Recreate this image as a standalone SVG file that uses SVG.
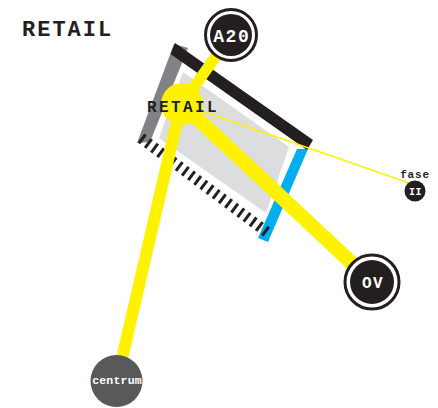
<svg xmlns="http://www.w3.org/2000/svg" width="438" height="408" viewBox="0 0 438 408">
<style>
.t{font-family:"Liberation Mono","DejaVu Sans Mono",monospace;font-weight:bold}
.dk{fill:#231f20}
.wt{fill:#ffffff}
.y{stroke:#fff200;fill:none;stroke-linecap:butt}
</style>
<rect width="438" height="408" fill="#ffffff"/>
<g id="building">
<polygon points="183,72 289,147 266,213 159,138" fill="#dcdddf"/>
<polygon points="174,44 188,48 150,142 137,143" fill="#808285"/>
<polygon points="297,149 308,149 268,242 258,238" fill="#00aeef"/>
<polygon points="175,43 313,140 307,150 170.5,54" fill="#231f20"/>
<line x1="141" y1="138" x2="268" y2="233" stroke="#231f20" stroke-width="11" stroke-dasharray="3 4.7"/>
</g>
<g id="connectors">
<line class="y" x1="231" y1="35" x2="182" y2="104" stroke-width="11"/>
<line class="y" x1="182" y1="104" x2="372" y2="282" stroke-width="14.5"/>
<line class="y" x1="181" y1="104" x2="117" y2="380" stroke-width="12"/>
<line class="y" x1="182" y1="104" x2="412" y2="184" stroke-width="1.5"/>
</g>
<g id="junction">
<circle cx="182" cy="104" r="21" fill="#fff200"/>
<text class="t dk" x="147" y="112" font-size="16" letter-spacing="2.4">RETAIL</text>
</g>
<g id="title">
<text class="t dk" x="22" y="36" font-size="22" letter-spacing="2">RETAIL</text>
</g>
<g id="a20">
<circle cx="231" cy="35" r="25.5" fill="#ffffff" stroke="#231f20" stroke-width="3"/>
<circle cx="231" cy="35" r="21" fill="#231f20"/>
<text class="t wt" x="231.8" y="42" font-size="18" letter-spacing="1.6" text-anchor="middle">A20</text>
</g>
<g id="ov">
<circle cx="372" cy="282" r="27" fill="#ffffff" stroke="#231f20" stroke-width="3"/>
<circle cx="372" cy="282" r="22" fill="#231f20"/>
<text class="t wt" x="373" y="288" font-size="16" letter-spacing="1.5" text-anchor="middle">OV</text>
</g>
<g id="fase">
<circle cx="415" cy="191" r="10.5" fill="#231f20"/>
<text class="t wt" x="415.5" y="195" font-size="10" letter-spacing="0.5" text-anchor="middle">II</text>
<text class="t dk" x="415" y="178" font-size="11" letter-spacing="0.8" text-anchor="middle">fase</text>
</g>
<g id="centrum">
<circle cx="116.5" cy="381" r="26" fill="#58595b"/>
<text class="t wt" x="117" y="384" font-size="11.5" letter-spacing="0.2" text-anchor="middle">centrum</text>
</g>
</svg>
